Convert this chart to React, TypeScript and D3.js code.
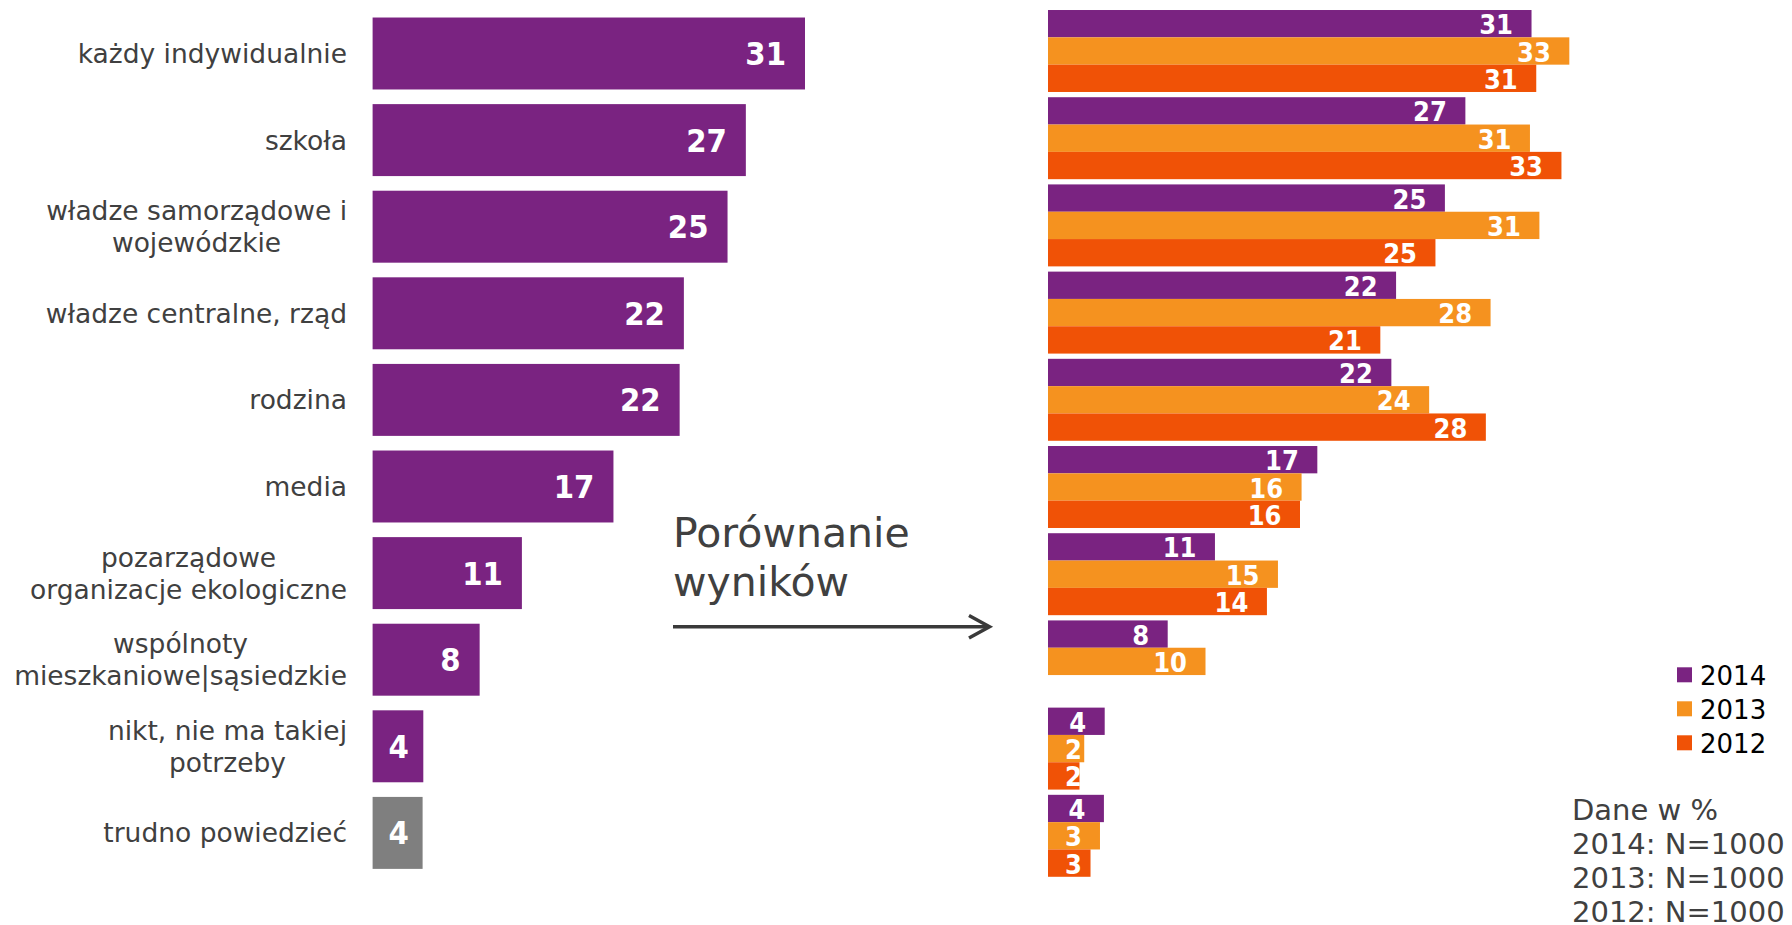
import { useEffect, useRef } from "react";
import * as d3 from "d3";

// categories (multi-line labels split into lines)
const categories: string[][] = [
  ["każdy indywidualnie"],
  ["szkoła"],
  ["władze samorządowe i", "wojewódzkie"],
  ["władze centralne, rząd"],
  ["rodzina"],
  ["media"],
  ["pozarządowe", "organizacje ekologiczne"],
  ["wspólnoty", "mieszkaniowe|sąsiedzkie"],
  ["nikt, nie ma takiej", "potrzeby"],
  ["trudno powiedzieć"],
];

const years = ["2014", "2013", "2012"];
// bar lengths (labels are shown rounded)
const values2014 = [30.7, 26.5, 25.2, 22.1, 21.8, 17.1, 10.6, 7.6, 3.6, 3.55];
const values2013 = [33.1, 30.6, 31.2, 28.1, 24.2, 16.1, 14.6, 10.0, 2.3, 3.3];
const values2012: (number | null)[] = [31.0, 32.6, 24.6, 21.1, 27.8, 16.0, 13.9, null, 2.0, 2.7];

const arrowLines = ["Porównanie", "wyników"];
const noteLines = ["Dane w %", "2014: N=1000", "2013: N=1000", "2012: N=1000"];

const PURPLE = "#7A2381";
const ORANGE = "#F5921F";
const RED = "#F05206";
const GREY = "#7F7F7F";
const TEXT = "#404040";

const SANS = "'DejaVu Sans', Verdana, sans-serif";
const BOLD = "'DejaVu Sans Condensed', 'DejaVu Sans', sans-serif";
const fmt = d3.format(".0f");

export default function App() {
  const svgRef = useRef<SVGSVGElement | null>(null);

  useEffect(() => {
    const svg = d3.select(svgRef.current);
    svg.selectAll("*").remove();
    const W = 1792;
    const H = 925;
    svg.attr("width", W).attr("height", H).attr("viewBox", `0 0 ${W} ${H}`);
    svg.append("rect").attr("width", W).attr("height", H).attr("fill", "#fff");

    const idx = categories.map((_, i) => String(i));

    // ---- left panel: 2014 results ----
    const yLeft = d3
      .scaleBand()
      .domain(idx)
      .range([10.2, 876.2])
      .paddingInner(0.169)
      .paddingOuter(0.0845);
    const xLeft = d3
      .scaleLinear()
      .domain([0, d3.max(values2014)!])
      .range([372.6, 805]);
    const bwL = yLeft.bandwidth();

    const left = svg.append("g");
    left
      .selectAll("rect")
      .data(values2014)
      .enter()
      .append("rect")
      .attr("x", xLeft(0))
      .attr("y", (_, i) => yLeft(String(i))!)
      .attr("width", (d) => xLeft(d) - xLeft(0))
      .attr("height", bwL)
      .attr("fill", (_, i) => (i === values2014.length - 1 ? GREY : PURPLE));

    left
      .selectAll("text.val")
      .data(values2014)
      .enter()
      .append("text")
      .attr("class", "val")
      .attr("y", (_, i) => yLeft(String(i))! + bwL / 2 + 11.5)
      .attr("font-family", BOLD)
      .attr("font-weight", "bold")
      .attr("font-size", 32.5)
      .attr("fill", "#fff")
      .text((d) => fmt(d))
      .each(function (d) {
        const w = (this as SVGTextElement).getComputedTextLength();
        const x = Math.max(xLeft(0) + 16, xLeft(d) - 19 - w);
        d3.select(this).attr("x", x);
      });

    // category labels, right edge at 347, lines centred on the widest line
    const labelRight = 347;
    const lineH = 32;
    categories.forEach((lines, i) => {
      const c = yLeft(String(i))! + bwL / 2;
      const g = left.append("g");
      const texts = lines.map((line, k) =>
        g
          .append("text")
          .attr("y", c + 9.5 + (k - (lines.length - 1) / 2) * lineH)
          .attr("font-family", SANS)
          .attr("font-size", 26.5)
          .attr("fill", TEXT)
          .text(line)
      );
      const widths = texts.map((t) => (t.node() as SVGTextElement).getComputedTextLength());
      const maxW = d3.max(widths) || 0;
      texts.forEach((t) =>
        t.attr("text-anchor", "middle").attr("x", labelRight - maxW / 2)
      );
    });

    // ---- arrow ----
    const arrow = svg.append("g");
    arrowLines.forEach((line, k) => {
      arrow
        .append("text")
        .attr("x", 673)
        .attr("y", 546.7 + k * 49.3)
        .attr("font-family", SANS)
        .attr("font-size", 41)
        .attr("fill", TEXT)
        .text(line);
    });
    arrow
      .append("line")
      .attr("x1", 673)
      .attr("x2", 988)
      .attr("y1", 626.7)
      .attr("y2", 626.7)
      .attr("stroke", "#3a3a3a")
      .attr("stroke-width", 3.5);
    arrow
      .append("path")
      .attr("d", "M969,615.5L989.5,626.7L969,638")
      .attr("fill", "none")
      .attr("stroke", "#3a3a3a")
      .attr("stroke-width", 3.5);

    // ---- right panel: comparison 2014/2013/2012 ----
    const series = [
      { year: years[0], values: values2014 as (number | null)[], color: PURPLE },
      { year: years[1], values: values2013 as (number | null)[], color: ORANGE },
      { year: years[2], values: values2012, color: RED },
    ];
    const yRight = d3
      .scaleBand()
      .domain(idx)
      .range([7.4, 879.4])
      .paddingInner(0.06)
      .paddingOuter(0.03);
    const ySub = d3.scaleBand().domain(years).range([0, yRight.bandwidth()]);
    const maxRight = d3.max(series, (s) => d3.max(s.values, (v) => v ?? 0))!;
    const xRight = d3
      .scaleLinear()
      .domain([0, maxRight])
      .range([1048, 1048 + maxRight * 15.75]);
    const bwS = ySub.bandwidth();

    const right = svg.append("g");
    series.forEach((s) => {
      const pts = s.values
        .map((v, i) => ({ v, i }))
        .filter((p) => p.v !== null) as { v: number; i: number }[];
      right
        .selectAll(`rect.s${s.year}`)
        .data(pts)
        .enter()
        .append("rect")
        .attr("class", `s${s.year}`)
        .attr("x", xRight(0))
        .attr("y", (p) => yRight(String(p.i))! + ySub(s.year)!)
        .attr("width", (p) => xRight(p.v) - xRight(0))
        .attr("height", bwS)
        .attr("fill", s.color);
      right
        .selectAll(`text.s${s.year}`)
        .data(pts)
        .enter()
        .append("text")
        .attr("class", `s${s.year}`)
        .attr("y", (p) => yRight(String(p.i))! + ySub(s.year)! + bwS / 2 + 10.5)
        .attr("font-family", BOLD)
        .attr("font-weight", "bold")
        .attr("font-size", 27)
        .attr("fill", "#fff")
        .text((p) => fmt(p.v))
        .each(function (p) {
          const w = (this as SVGTextElement).getComputedTextLength();
          const x = Math.max(xRight(0) + 17, xRight(p.v) - 18.5 - w);
          d3.select(this).attr("x", x);
        });
    });

    // ---- legend ----
    const legend = svg.append("g");
    series.forEach((s, k) => {
      legend
        .append("rect")
        .attr("x", 1677)
        .attr("y", 667.3 + k * 34)
        .attr("width", 15)
        .attr("height", 15)
        .attr("fill", s.color);
      legend
        .append("text")
        .attr("x", 1700)
        .attr("y", 685 + k * 34)
        .attr("font-family", SANS)
        .attr("font-size", 26)
        .attr("fill", "#000")
        .text(s.year);
    });

    // ---- note ----
    noteLines.forEach((line, k) => {
      svg
        .append("text")
        .attr("x", 1572)
        .attr("y", 820 + k * 34)
        .attr("font-family", SANS)
        .attr("font-size", 29)
        .attr("fill", TEXT)
        .text(line);
    });
  }, []);

  return (
    <svg
      ref={svgRef}
      style={{ position: "absolute", left: 0, top: 0, display: "block" }}
      role="img"
    />
  );
}
